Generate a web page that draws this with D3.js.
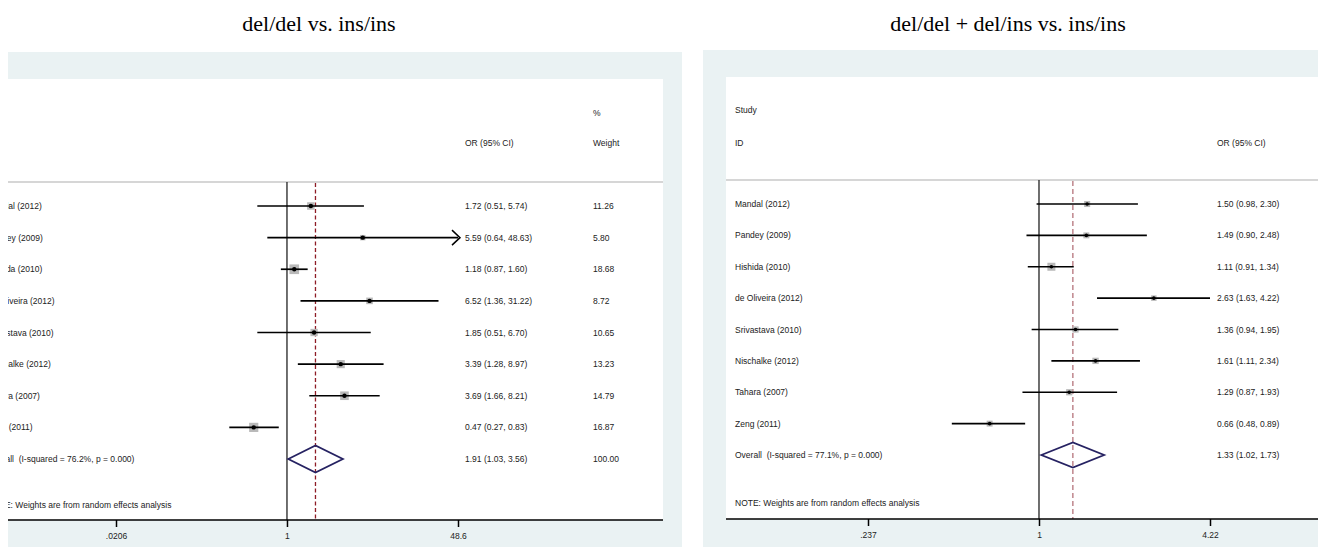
<!DOCTYPE html>
<html>
<head>
<meta charset="utf-8">
<script src="https://cdn.jsdelivr.net/npm/d3@7"></script>
<style>
  html, body { margin: 0; padding: 0; background: #ffffff; }
  svg { display: block; }
  .small { font-family: "Liberation Sans", Arial, sans-serif; font-size: 8.5px; fill: #222; white-space: pre; }
  .title { font-family: "Liberation Serif", "Times New Roman", serif; font-size: 22px; fill: #000; }
</style>
</head>
<body>
<svg id="chart" width="1318" height="547"></svg>
<script>
// ---------------- DATA ----------------
const studies = ["Mandal (2012)", "Pandey (2009)", "Hishida (2010)", "de Oliveira (2012)",
                 "Srivastava (2010)", "Nischalke (2012)", "Tahara (2007)", "Zeng (2011)"];

// Panel A: del/del vs. ins/ins
const titleA = "del/del vs. ins/ins";
const orA   = [1.72, 5.59, 1.18, 6.52, 1.85, 3.39, 3.69, 0.47];
const loA   = [0.51, 0.64, 0.87, 1.36, 0.51, 1.28, 1.66, 0.27];
const hiA   = [5.74, 48.63, 1.60, 31.22, 6.70, 8.97, 8.21, 0.83];
const wA    = [11.26, 5.80, 18.68, 8.72, 10.65, 13.23, 14.79, 16.87];
const overallA = [1.91, 1.03, 3.56];
const overallLabelA = "Overall  (I-squared = 76.2%, p = 0.000)";
const overallWeightA = "100.00";
const ticksA = [0.0206, 1, 48.6];
const tickLabelsA = [".0206", "1", "48.6"];

// Panel B: del/del + del/ins vs. ins/ins
const titleB = "del/del + del/ins vs. ins/ins";
const orB   = [1.50, 1.49, 1.11, 2.63, 1.36, 1.61, 1.29, 0.66];
const loB   = [0.98, 0.90, 0.91, 1.63, 0.94, 1.11, 0.87, 0.48];
const hiB   = [2.30, 2.48, 1.34, 4.22, 1.95, 2.34, 1.93, 0.89];
const wB    = [11.0, 10.5, 19.0, 9.0, 11.5, 12.0, 11.5, 10.5]; // (not printed)
const overallB = [1.33, 1.02, 1.73];
const overallLabelB = "Overall  (I-squared = 77.1%, p = 0.000)";
const ticksB = [0.237, 1, 4.22];
const tickLabelsB = [".237", "1", "4.22"];

const noteText = "NOTE: Weights are from random effects analysis";
const fmt = d3.format(".2f");

// ---------------- DRAW ----------------
const svg = d3.select("#chart");
const BG = "#eaf2f3";

function drawPanel(cfg) {
  const g = svg.append("g");
  if (cfg.clipX !== undefined) {
    const id = "clip" + Math.round(cfg.clipX);
    svg.append("defs").append("clipPath").attr("id", id)
      .append("rect").attr("x", cfg.clipX).attr("y", 0).attr("width", 2000).attr("height", 547);
    g.attr("clip-path", `url(#${id})`);
  }
  // backgrounds
  g.append("rect").attr("x", cfg.bgX0).attr("y", cfg.bgY0)
    .attr("width", cfg.bgX1 - cfg.bgX0).attr("height", 547 - cfg.bgY0).attr("fill", BG);
  g.append("rect").attr("x", cfg.wX0).attr("y", cfg.wY0)
    .attr("width", cfg.wX1 - cfg.wX0).attr("height", cfg.axisY - cfg.wY0).attr("fill", "#ffffff");

  // title
  svg.append("text").attr("class", "title").attr("x", cfg.titleX).attr("y", 31)
    .attr("text-anchor", "middle").text(cfg.title);

  const x = d3.scaleLog().domain([cfg.ticks[0], cfg.ticks[2]]).range(cfg.xRange);
  const n = cfg.or.length;
  const y = d3.scaleLinear().domain([0, n]).range(cfg.yRange);
  const size = d3.scaleSqrt().domain([0, 20]).range([0, cfg.boxMax]);

  // header line
  g.append("line").attr("x1", cfg.wX0).attr("x2", cfg.wX1)
    .attr("y1", cfg.headY).attr("y2", cfg.headY)
    .attr("stroke", "#c8c8c8").attr("stroke-width", 1.5);

  // header texts
  cfg.headers.forEach(h => {
    g.append("text").attr("class", "small").attr("x", h[0]).attr("y", h[1]).text(h[2]);
  });

  // null line
  g.append("line").attr("x1", x(1)).attr("x2", x(1))
    .attr("y1", cfg.headY).attr("y2", cfg.axisY)
    .attr("stroke", "#222").attr("stroke-width", 1.3);
  // overall dashed line
  g.append("line").attr("x1", x(cfg.overall[0])).attr("x2", x(cfg.overall[0]))
    .attr("y1", cfg.headY + 1).attr("y2", cfg.axisY)
    .attr("stroke", cfg.dashColor).attr("stroke-width", 1.3)
    .attr("stroke-dasharray", cfg.dash);

  const [xmin, xmax] = x.domain();
  const rows = d3.range(n).map(i => ({
    i, label: studies[i], or: cfg.or[i], lo: cfg.lo[i], hi: cfg.hi[i], w: cfg.w[i]
  }));

  // boxes
  g.selectAll("rect.box").data(rows).enter().append("rect").attr("class", "box")
    .attr("x", d => x(d.or) - size(d.w) / 2).attr("y", d => y(d.i) - size(d.w) / 2)
    .attr("width", d => size(d.w)).attr("height", d => size(d.w))
    .attr("fill", "#b9b9b9");
  // CI lines
  g.selectAll("line.ci").data(rows).enter().append("line").attr("class", "ci")
    .attr("x1", d => x(Math.max(d.lo, xmin))).attr("x2", d => x(Math.min(d.hi, xmax)))
    .attr("y1", d => y(d.i)).attr("y2", d => y(d.i))
    .attr("stroke", "#000").attr("stroke-width", 1.7);
  // arrows for truncated CIs
  rows.filter(d => d.hi > xmax).forEach(d => {
    const tx = x(xmax) + 2, ty = y(d.i);
    g.append("path").attr("d", `M${tx - 8},${ty - 7.5}L${tx},${ty}L${tx - 8},${ty + 7.5}`)
      .attr("fill", "none").attr("stroke", "#000").attr("stroke-width", 1.5);
  });
  // point estimates
  g.selectAll("circle.pt").data(rows).enter().append("circle").attr("class", "pt")
    .attr("cx", d => x(d.or)).attr("cy", d => y(d.i)).attr("r", cfg.dotR).attr("fill", "#000");

  // labels
  g.selectAll("text.lab").data(rows).enter().append("text").attr("class", "small lab")
    .attr("x", cfg.labelX).attr("y", d => y(d.i) + 3).text(d => d.label);
  g.selectAll("text.orv").data(rows).enter().append("text").attr("class", "small orv")
    .attr("x", cfg.orX).attr("y", d => y(d.i) + 3)
    .text(d => `${fmt(d.or)} (${fmt(d.lo)}, ${fmt(d.hi)})`);
  if (cfg.weightX !== undefined) {
    g.selectAll("text.wv").data(rows).enter().append("text").attr("class", "small wv")
      .attr("x", cfg.weightX).attr("y", d => y(d.i) + 3).text(d => fmt(d.w));
  }

  // overall diamond
  const oy = y(n);
  const [oe, ol, oh] = cfg.overall;
  g.append("path")
    .attr("d", `M${x(ol)},${oy}L${x(oe)},${oy - cfg.diaH}L${x(oh)},${oy}L${x(oe)},${oy + cfg.diaH}Z`)
    .attr("fill", "none").attr("stroke", "#262262").attr("stroke-width", 1.8);
  g.append("text").attr("class", "small").attr("x", cfg.labelX).attr("y", oy + 3).text(cfg.overallLabel);
  g.append("text").attr("class", "small").attr("x", cfg.orX).attr("y", oy + 3)
    .text(`${fmt(oe)} (${fmt(ol)}, ${fmt(oh)})`);
  if (cfg.weightX !== undefined) {
    g.append("text").attr("class", "small").attr("x", cfg.weightX).attr("y", oy + 3).text(cfg.overallWeight);
  }
  // note
  g.append("text").attr("class", "small").attr("x", cfg.labelX).attr("y", cfg.noteY).text(noteText);

  // axis
  g.append("line").attr("x1", cfg.wX0).attr("x2", cfg.wX1)
    .attr("y1", cfg.axisY).attr("y2", cfg.axisY).attr("stroke", "#000").attr("stroke-width", 1.5);
  const axis = d3.axisBottom(x).tickValues(cfg.ticks)
    .tickFormat((d, i) => cfg.tickLabels[i]).tickSize(7).tickPadding(6);
  const ag = g.append("g").attr("transform", `translate(0,${cfg.axisY})`).call(axis);
  ag.select(".domain").remove();
  ag.selectAll(".tick line").attr("stroke", "#000").attr("stroke-width", 1.5);
  ag.selectAll(".tick text").attr("class", "small").attr("fill", "#222")
    .style("font-family", '"Liberation Sans", Arial, sans-serif').style("font-size", "8.5px");
}

drawPanel({
  title: titleA, titleX: 319, clipX: 8,
  bgX0: 8, bgX1: 682, bgY0: 52,
  wX0: 8, wX1: 663, wY0: 79,
  axisY: 520, headY: 182,
  xRange: [116, 458], yRange: [206, 459],
  or: orA, lo: loA, hi: hiA, w: wA, overall: overallA,
  ticks: ticksA, tickLabels: tickLabelsA,
  overallLabel: overallLabelA, overallWeight: overallWeightA,
  labelX: -13, orX: 465, weightX: 593, noteY: 508,
  headers: [[593, 116, "%"], [593, 146, "Weight"], [465, 146, "OR (95% CI)"]],
  dashColor: "#8e1c26", dash: "4,2.5", boxMax: 10, dotR: 2.2, diaH: 13.5
});

drawPanel({
  title: titleB, titleX: 1008,
  bgX0: 703, bgX1: 1318, bgY0: 50,
  wX0: 726, wX1: 1318, wY0: 77,
  axisY: 519, headY: 180,
  xRange: [868, 1210], yRange: [204, 455],
  or: orB, lo: loB, hi: hiB, w: wB, overall: overallB,
  ticks: ticksB, tickLabels: tickLabelsB,
  overallLabel: overallLabelB,
  labelX: 735, orX: 1217, noteY: 506,
  headers: [[735, 113, "Study"], [735, 146, "ID"], [1217, 146, "OR (95% CI)"]],
  dashColor: "#b5737b", dash: "5,3", boxMax: 8.2, dotR: 1.8, diaH: 12.5
});
</script>
</body>
</html>
